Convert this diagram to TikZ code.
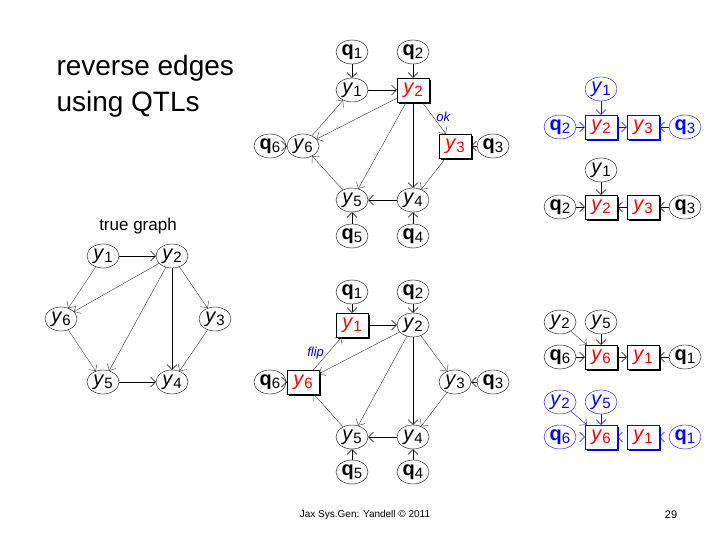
\documentclass[tikz,border=0pt]{standalone}
\usepackage{fontspec}
\setmainfont{Liberation Sans}
\usetikzlibrary{shapes.geometric,shadows,arrows.meta}
\newcommand{\yv}[1]{\textit{y}\raisebox{-0.3ex}{\fontsize{15}{15}\selectfont #1}}
\newcommand{\qv}[1]{\textbf{q}\raisebox{-0.3ex}{\fontsize{15}{15}\selectfont #1}}
\begin{document}
\begin{tikzpicture}[x=1pt,y=-1pt,
 vn/.style={ellipse,draw,inner sep=0pt,minimum width=32pt,minimum height=24pt,font=\fontsize{20}{20}\selectfont},
 bx/.style={rectangle,draw,inner sep=0pt,minimum width=32pt,minimum height=24pt,font=\fontsize{20}{20}\selectfont,text=red,fill=white,
   drop shadow={shadow xshift=2pt,shadow yshift=-2pt,fill=black,opacity=1}},
 bbx/.style={bx,draw=blue,drop shadow={shadow xshift=2pt,shadow yshift=-2pt,fill=blue,opacity=1}},
 bl/.style={draw=blue,text=blue},
 ed/.style={-{Straight Barb[length=5pt]},thin},
 th/.style={ed,draw=black!80},
 tip/.style={ed,dash pattern=on 0pt off 200pt}]
\useasboundingbox (0,0) rectangle (720,540);
\node[anchor=west,align=left,font=\fontsize{28}{36}\selectfont] (title) at (53,86) {reverse edges\\using QTLs};
\node[font=\fontsize{17}{17}\selectfont] (tg) at (138,226) {true graph};
\node[font=\fontsize{10}{10}\selectfont] (foot) at (365,515) {Jax Sys.Gen: Yandell © 2011};
\node[font=\fontsize{11}{11}\selectfont] (pg) at (671,515) {29};
% true graph
\node[vn] (a1) at (103,256) {\yv1};
\node[vn] (a2) at (172,256) {\yv2};
\node[vn] (a6) at (61,319) {\yv6};
\node[vn] (a3) at (215,319) {\yv3};
\node[vn] (a5) at (103,382) {\yv5};
\node[vn] (a4) at (172,382) {\yv4};
\draw[ed] (a1)--(a2); \draw[th] (a1)--(a6); \draw[th] (a2)--(a6); \draw[th] (a2)--(a5);
\draw[ed] (a2)--(a4); \draw[th] (a2)--(a3); \draw[th] (a6)--(a5); \draw[th] (a3)--(a4); \draw[ed] (a5)--(a4);
% top middle
\node[vn] (b q1) at (352,52) {\qv1};
\node[vn] (b q2) at (413,52) {\qv2};
\node[vn] (b1) at (352,90) {\yv1};
\node[bx] (b2) at (413,90) {\yv2};
\node[vn] (b q6) at (270,146) {\qv6};
\node[vn] (b6) at (303,146) {\yv6};
\node[bx] (b3) at (455,146) {\yv3};
\node[vn] (b q3) at (493,146) {\qv3};
\node[vn] (b5) at (352,200) {\yv5};
\node[vn] (b4) at (413,200) {\yv4};
\node[vn] (b q5) at (352,236) {\qv5};
\node[vn] (b q4) at (413,236) {\qv4};
\draw[ed] (b q1)--(b1); \draw[ed] (b q2)--(b2); \draw[ed] (b1)--(b2);
\draw[th] (b2)--(b6); \draw[th] (b6)--(b1); \draw[th] (b2)--(b5); \draw[ed] (b2)--(b4);
\draw[th] (b2)-- node[pos=0.45,right,text=blue,font=\itshape\fontsize{13}{13}\selectfont] {ok} (b3);
\draw[th] (b3)--(b4); \draw[ed] (b4)--(b5); \draw[th] (b5)--(b6);
\draw[ed] (b q6)--(b6); \draw[ed] (b q3)--(b3); \draw[ed] (b q5)--(b5); \draw[ed] (b q4)--(b4);
% bottom middle
\node[vn] (c q1) at (352,292) {\qv1};
\node[vn] (c q2) at (413,292) {\qv2};
\node[bx] (c1) at (352,325) {\yv1};
\node[vn] (c2) at (413,325) {\yv2};
\node[vn] (c q6) at (270,382) {\qv6};
\node[bx] (c6) at (303,382) {\yv6};
\node[vn] (c3) at (455,382) {\yv3};
\node[vn] (c q3) at (493,382) {\qv3};
\node[vn] (c5) at (352,437) {\yv5};
\node[vn] (c4) at (413,437) {\yv4};
\node[vn] (c q5) at (352,472) {\qv5};
\node[vn] (c q4) at (413,472) {\qv4};
\draw[ed] (c q1)--(c1); \draw[ed] (c q2)--(c2); \draw[ed] (c1)--(c2);
\draw[th] (c6)-- node[pos=0.5,left,text=blue,font=\itshape\fontsize{13}{13}\selectfont] {flip} (c1);
\draw[th] (c2)--(c6); \draw[th] (c2)--(c5); \draw[ed] (c2)--(c4); \draw[th] (c2)--(c3);
\draw[th] (c3)--(c4); \draw[ed] (c4)--(c5); \draw[th] (c5)--(c6);
\draw[ed] (c q6)--(c6); \draw[ed] (c q3)--(c3); \draw[ed] (c q5)--(c5); \draw[ed] (c q4)--(c4);
% right top blue
\begin{scope}[every node/.append style={bl}]
\node[vn] (d1) at (601,89) {\yv1};
\node[vn] (d q2) at (560,127) {\qv2};
\node[vn] (d q3) at (685,127) {\qv3};
\end{scope}
\node[bbx] (d2) at (601,127) {\yv2};
\node[bbx] (d3) at (643,127) {\yv3};
\draw[ed,blue] (d1)--(d2); \draw[ed,blue] (d q2)--(d2); \draw[ed,blue] (d2)--(d3); \draw[ed,blue] (d q3)--(d3);
% right top black
\node[vn] (e1) at (601,170) {\yv1};
\node[vn] (e q2) at (560,207) {\qv2};
\node[bx] (e2) at (601,207) {\yv2};
\node[bx] (e3) at (643,207) {\yv3};
\node[vn] (e q3) at (685,207) {\qv3};
\draw[ed] (e1)--(e2); \draw[ed] (e q2)--(e2); \draw[ed] (e3)--(e2); \draw[ed] (e q3)--(e3);
% right bottom black
\node[vn] (f2) at (560,322) {\yv2};
\node[vn] (f5) at (601,322) {\yv5};
\node[vn] (f q6) at (560,357) {\qv6};
\node[bx] (f6) at (601,357) {\yv6};
\node[bx] (f1) at (643,357) {\yv1};
\node[vn] (f q1) at (685,357) {\qv1};
\draw[th] (f2)--(f6); \draw[ed] (f5)--(f6); \draw[ed] (f q6)--(f6); \draw[ed] (f6)--(f1); \draw[ed] (f q1)--(f1);
% right bottom blue
\begin{scope}[every node/.append style={bl}]
\node[vn] (g2) at (560,402) {\yv2};
\node[vn] (g5) at (601,402) {\yv5};
\node[vn] (g q6) at (560,437) {\qv6};
\node[vn] (g q1) at (685,437) {\qv1};
\end{scope}
\node[bbx] (g6) at (601,437) {\yv6};
\node[bbx] (g1) at (643,437) {\yv1};
\draw[ed,blue] (g2)--(g6); \draw[ed,blue] (g5)--(g6);
\draw[tip,blue] (g q6)--(g6); \draw[tip,blue] (g1)--(g6); \draw[tip,blue] (g q1)--(g1);
\end{tikzpicture}
\end{document}
